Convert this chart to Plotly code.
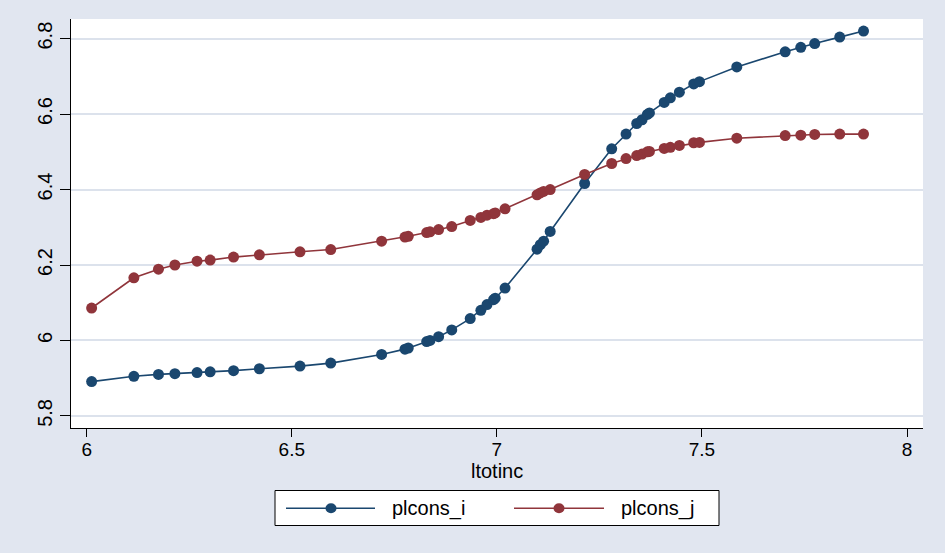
import plotly.graph_objects as go

# ---- data ----
ltotinc = [6.012, 6.115, 6.175, 6.215, 6.269, 6.301, 6.358, 6.421, 6.520, 6.595,
           6.719, 6.776, 6.784, 6.829, 6.837, 6.858, 6.890, 6.935, 6.961, 6.976,
           6.992, 6.996, 7.020, 7.098, 7.106, 7.114, 7.130, 7.214, 7.280, 7.315,
           7.341, 7.354, 7.367, 7.372, 7.408, 7.423, 7.445, 7.480, 7.494, 7.585,
           7.703, 7.741, 7.775, 7.836, 7.894]
plcons_i = [5.891, 5.905, 5.910, 5.912, 5.915, 5.917, 5.920, 5.925, 5.932, 5.940,
            5.963, 5.977, 5.980, 5.997, 6.000, 6.010, 6.028, 6.058, 6.080, 6.095,
            6.108, 6.112, 6.139, 6.242, 6.254, 6.263, 6.289, 6.416, 6.508, 6.547,
            6.575, 6.585, 6.599, 6.603, 6.631, 6.643, 6.658, 6.680, 6.686, 6.725,
            6.765, 6.777, 6.787, 6.804, 6.820]
plcons_j = [6.086, 6.166, 6.189, 6.200, 6.210, 6.213, 6.221, 6.227, 6.235, 6.241,
            6.263, 6.274, 6.276, 6.286, 6.288, 6.294, 6.302, 6.318, 6.326, 6.332,
            6.336, 6.338, 6.349, 6.386, 6.391, 6.395, 6.400, 6.440, 6.469, 6.482,
            6.490, 6.494, 6.500, 6.501, 6.509, 6.512, 6.517, 6.524, 6.525, 6.536,
            6.543, 6.544, 6.546, 6.547, 6.547]
series_names = ["plcons_i", "plcons_j"]
series_colors = ["#1A476F", "#90353B"]
x_ticks = [6, 6.5, 7, 7.5, 8]
x_ticklabels = ["6", "6.5", "7", "7.5", "8"]
y_ticks = [5.8, 6.0, 6.2, 6.4, 6.6, 6.8]
y_ticklabels = ["5.8", "6", "6.2", "6.4", "6.6", "6.8"]
x_title = "ltotinc"

FONT = "Liberation Sans, Arial, Helvetica, sans-serif"
BG = "#E1E6F0"
W, H = 945, 553
ML, MR, MT, MB = 71, 22, 19, 125
PW, PH = W - ML - MR, H - MT - MB

fig = go.Figure()
for name, ys, col in zip(series_names, [plcons_i, plcons_j], series_colors):
    fig.add_trace(go.Scatter(
        x=ltotinc, y=ys, name=name, mode="lines+markers",
        line=dict(color=col, width=1.6),
        marker=dict(color=col, size=11, symbol="circle"),
        showlegend=False,
    ))

# ---- custom Stata-like legend ----
def px2x(px):
    return (px - ML) / PW

def py2y(py):
    return (MT + PH - py) / PH

shapes = [dict(type="rect", xref="paper", yref="paper",
               x0=px2x(275), x1=px2x(719), y0=py2y(525.5), y1=py2y(490.5),
               line=dict(color="#000000", width=1), fillcolor="#FFFFFF", layer="below")]
annotations = [dict(xref="paper", yref="paper", x=px2x(496.5), y=py2y(471),
                    text=x_title, showarrow=False, xanchor="center", yanchor="middle",
                    borderpad=0,
                    font=dict(family=FONT, size=20, color="#000000"))]
row_y = py2y(508.3)
entries = [(286, 375, 331, 390), (514, 604, 559, 619)]
for (lx0, lx1, mx, tx), name, col in zip(entries, series_names, series_colors):
    shapes.append(dict(type="line", xref="paper", yref="paper",
                       x0=px2x(lx0), x1=px2x(lx1), y0=row_y, y1=row_y,
                       line=dict(color=col, width=1.6)))
    shapes.append(dict(type="circle", xref="paper", yref="paper",
                       xsizemode="pixel", ysizemode="pixel",
                       xanchor=px2x(mx), yanchor=row_y,
                       x0=-5.5, x1=5.5, y0=-5, y1=5,
                       line=dict(color=col, width=0), fillcolor=col))
    annotations.append(dict(xref="paper", yref="paper", x=px2x(tx), y=row_y,
                            text=name, showarrow=False, xanchor="left", yanchor="middle",
                            font=dict(family=FONT, size=20, color="#000000")))

fig.update_layout(
    width=W, height=H,
    margin=dict(l=ML, r=MR, t=MT, b=MB, pad=0),
    paper_bgcolor=BG, plot_bgcolor="#FFFFFF",
    font=dict(family=FONT, size=20, color="#000000"),
    shapes=shapes, annotations=annotations,
    showlegend=False,
)
fig.update_xaxes(
    range=[5.9617, 8.039], tickvals=x_ticks, ticktext=x_ticklabels,
    showgrid=False, zeroline=False,
    showline=True, linecolor="#000000", linewidth=1.2,
    ticks="outside", ticklen=8, tickwidth=1.2, tickcolor="#000000",
    ticklabelstandoff=-4,
    tickfont=dict(family=FONT, size=19, color="#000000"),
)
fig.update_yaxes(
    range=[5.768, 6.852], tickvals=y_ticks, ticktext=y_ticklabels,
    showgrid=True, gridcolor="#DCE2EC", gridwidth=1.5, zeroline=False,
    showline=True, linecolor="#000000", linewidth=1.2,
    ticks="outside", ticklen=10, tickwidth=1.2, tickcolor="#000000",
    tickangle=-90,
    tickfont=dict(family=FONT, size=20, color="#000000"),
)

fig.write_html(
    "out.html",
    config={"displayModeBar": False},
    post_script="document.body.style.margin='0';document.body.style.overflow='hidden';"
                "document.body.style.background='" + BG + "';",
)
